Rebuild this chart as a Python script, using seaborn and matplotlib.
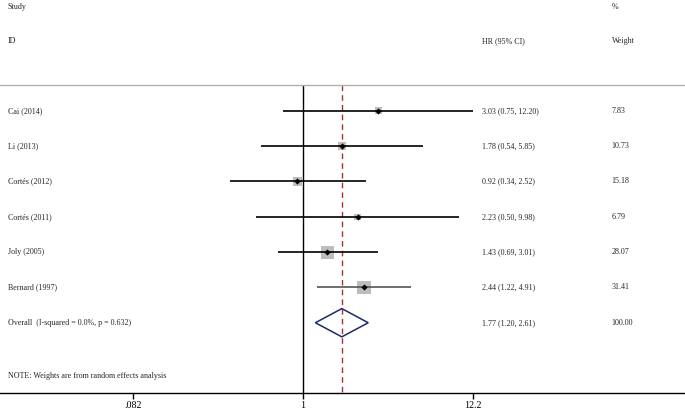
"""
Forest plot: hazard ratios by study, random effects pooled estimate.
Saves out.png (685x412).
"""

import matplotlib
matplotlib.use("Agg")

import numpy as np
import matplotlib.pyplot as plt
import seaborn as sns

# --- data ---
studies = ["Cai (2014)", "Li (2013)", "Cortés (2012)", "Cortés (2011)",
           "Joly (2005)", "Bernard (1997)"]
hr = [3.03, 1.78, 0.92, 2.23, 1.43, 2.44]
ci_low = [0.75, 0.54, 0.34, 0.50, 0.69, 1.22]
ci_high = [12.20, 5.85, 2.52, 9.98, 3.01, 4.91]
weights = [7.83, 10.73, 15.18, 6.79, 28.07, 31.41]

overall_label = "Overall  (I-squared = 0.0%, p = 0.632)"
overall_hr = 1.77
overall_low = 1.20
overall_high = 2.61

tick_values = [0.082, 1, 12.2]
tick_labels = [".082", "1", "12.2"]
note = "NOTE: Weights are from random effects analysis"

sns.set_style("white")
plt.rcParams["font.family"] = ["Liberation Serif", "DejaVu Serif"]

fig = plt.figure(figsize=(6.85, 4.12), dpi=100)
ax = fig.add_axes([0, 19 / 412, 1, 1 - 19 / 412])
ax.set_xscale("log")
ax.set_xlim(np.exp(-303 / 68), np.exp((685 - 303) / 68))
y_bottom = 8.99
ax.set_ylim(y_bottom, -2.14)

rows = np.arange(1, len(studies) + 1)
overall_row = len(studies) + 1
fs = 5.8

# gray weight boxes, area proportional to weight
ax.scatter(hr, rows, s=[3.1 * w for w in weights], marker="s",
           color="#bdbdbd", linewidths=0, zorder=2)
# confidence interval lines
line_colors = ["black"] * (len(studies) - 1) + ["#555555"]
ax.hlines(rows, ci_low, ci_high, colors=line_colors, linewidth=1.2, zorder=3)
# point estimates
sns.scatterplot(x=hr, y=rows, marker="D", color="black", s=10,
                linewidth=0, ax=ax, zorder=4)

# pooled diamond
ax.fill([overall_low, overall_hr, overall_high, overall_hr],
        [overall_row, overall_row - 0.4, overall_row, overall_row + 0.4],
        facecolor="none", edgecolor="#1c2a6b", linewidth=1.1, zorder=4)

# null line and overall estimate line
ax.vlines(1, 0.26, y_bottom, colors="black", linewidth=1)
ax.vlines(overall_hr, 0.26, y_bottom, colors="#a83232", linewidth=1,
          linestyles=(0, (4, 3)))

# header separator
ax.axhline(0.26, color="#b0b0b0", linewidth=1)

# text columns
tr = ax.get_yaxis_transform()
col_study, col_hr, col_w = 0.011, 0.703, 0.893
ax.text(col_study, -1.95, "Study", transform=tr, fontsize=fs, va="center")
ax.text(col_study, -0.98, "ID", transform=tr, fontsize=fs, va="center")
ax.text(col_hr, -0.98, "HR (95% CI)", transform=tr, fontsize=fs, va="center")
ax.text(col_w, -1.95, "%", transform=tr, fontsize=fs, va="center")
ax.text(col_w, -0.98, "Weight", transform=tr, fontsize=fs, va="center")

for r, name, h, lo, hi, w in zip(rows, studies, hr, ci_low, ci_high, weights):
    ax.text(col_study, r, name, transform=tr, fontsize=fs, va="center")
    ax.text(col_hr, r, f"{h:.2f} ({lo:.2f}, {hi:.2f})", transform=tr,
            fontsize=fs, va="center")
    ax.text(col_w, r, f"{w:.2f}", transform=tr, fontsize=fs, va="center")

ax.text(col_study, overall_row, overall_label, transform=tr, fontsize=fs,
        va="center")
ax.text(col_hr, overall_row,
        f"{overall_hr:.2f} ({overall_low:.2f}, {overall_high:.2f})",
        transform=tr, fontsize=fs, va="center")
ax.text(col_w, overall_row, "100.00", transform=tr, fontsize=fs, va="center")
ax.text(col_study, 8.5, note, transform=tr, fontsize=fs, va="center")

# axes
for side in ["top", "left", "right"]:
    ax.spines[side].set_visible(False)
ax.spines["bottom"].set_linewidth(1)
ax.spines["bottom"].set_color("black")
ax.set_yticks([])
ax.set_xticks(tick_values)
ax.set_xticklabels(tick_labels)
ax.xaxis.set_minor_locator(matplotlib.ticker.NullLocator())
ax.tick_params(axis="x", direction="out", length=4, width=1, pad=2,
               labelsize=7.2, bottom=True, colors="black")

fig.savefig("out.png", dpi=100)
plt.close(fig)
